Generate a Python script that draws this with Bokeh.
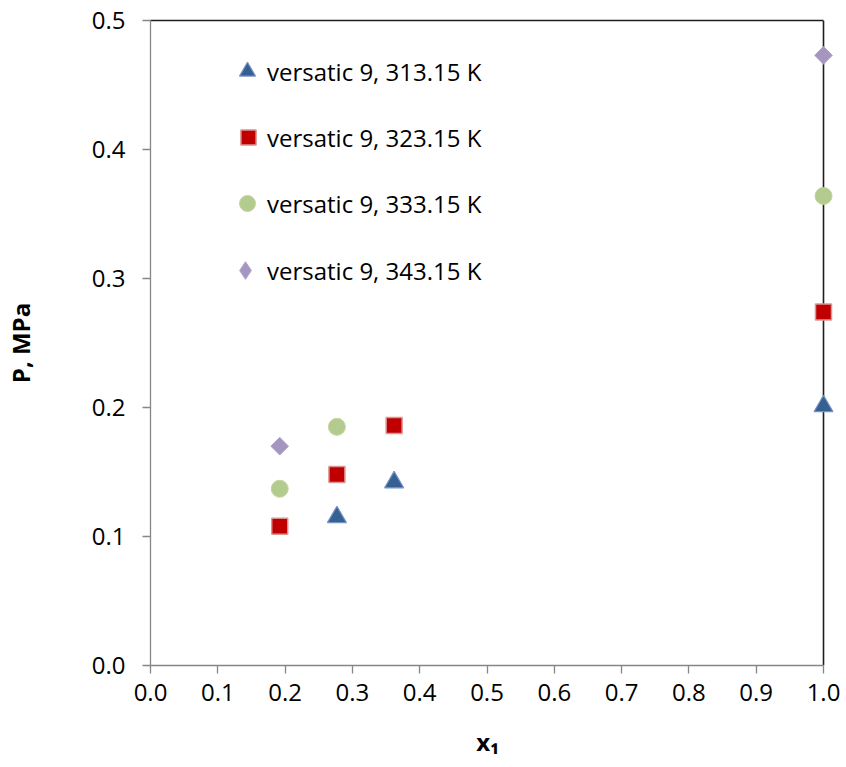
import numpy as np
from bokeh.plotting import figure
from bokeh.models import (Range1d, FixedTicker, PrintfTickFormatter, Span,
                          Legend, LegendItem, LinearAxis)
from bokeh.embed import file_html
from bokeh.resources import INLINE

# ---- data ----
x_ticks = [0.0, 0.1, 0.2, 0.3, 0.4, 0.5, 0.6, 0.7, 0.8, 0.9, 1.0]
y_ticks = [0.0, 0.1, 0.2, 0.3, 0.4, 0.5]

x_313 = [0.277, 0.362, 1.0]
p_313 = [0.115, 0.142, 0.201]
x_323 = [0.192, 0.277, 0.362, 1.0]
p_323 = [0.108, 0.148, 0.186, 0.274]
x_333 = [0.192, 0.277, 1.0]
p_333 = [0.137, 0.185, 0.364]
x_343 = [0.192, 1.0]
p_343 = [0.170, 0.473]

series_labels = ["versatic 9, 313.15 K", "versatic 9, 323.15 K",
                 "versatic 9, 333.15 K", "versatic 9, 343.15 K"]

FONT = "Open Sans"
W, H = 846, 767
ML, MR, MT, MB = 150, 3, 20, 102
PX_PER_X = 673.0          # pixels per unit of x1
EXTRA_X = (846 - ML - MR - 673) / PX_PER_X   # room right of x=1 so markers are not cut
FH = H - MT - MB

p = figure(width=W, height=H, x_range=Range1d(0, 1 + EXTRA_X),
           y_range=Range1d(0, 0.5),
           output_backend="svg", toolbar_location=None,
           min_border_left=ML, min_border_right=MR, min_border_top=MT,
           min_border_bottom=MB)
p.outline_line_color = None
p.grid.visible = False
p.background_fill_color = "white"
p.border_fill_color = "white"

p.xaxis.ticker = FixedTicker(ticks=x_ticks)
p.yaxis.ticker = FixedTicker(ticks=y_ticks)
p.xaxis.bounds = (0, 1)
for ax in (p.xaxis, p.yaxis):
    ax.formatter = PrintfTickFormatter(format="%.1f")
    ax.axis_line_color = "#868686"
    ax.axis_line_width = 1.3
    ax.major_tick_line_color = "#868686"
    ax.major_tick_line_width = 1.3
    ax.major_tick_out = 8
    ax.major_tick_in = 0
    ax.minor_tick_line_color = None
    ax.major_label_text_font = FONT
    ax.major_label_text_font_size = "24px"
    ax.major_label_text_color = "black"
    ax.axis_label_text_font = FONT
    ax.axis_label_text_font_size = "24px"
    ax.axis_label_text_font_style = "bold"
    ax.axis_label_text_color = "black"
p.xaxis.major_label_standoff = 10
p.yaxis.major_label_standoff = 17

p.yaxis.axis_label = "P, MPa"
p.yaxis.axis_label_standoff = 52
# trailing no-break spaces nudge the centred label left, over the 0..1 span
p.xaxis.axis_label = "x\u2081\u00a0\u00a0\u00a0"
p.xaxis.axis_label_standoff = 21

# top border line (from x=0 to x=1) and right border line at x=1
top_axis = LinearAxis(bounds=(0, 1), ticker=FixedTicker(ticks=[]),
                      axis_line_color="#1e1e1e", axis_line_width=1.6,
                      major_tick_line_color=None, minor_tick_line_color=None)
p.add_layout(top_axis, "above")
p.add_layout(Span(location=1.0, dimension="height", line_color="#1e1e1e",
                  line_width=1.6, level="underlay"))

r1 = p.scatter(x_313, p_313, marker="triangle", size=19, fill_color="#376092",
               line_color="#7393C4", line_width=1.2)
r2 = p.scatter(x_323, p_323, marker="square", size=16, fill_color="#C00000",
               line_color="#DA9694", line_width=1.5)
r3 = p.scatter(x_333, p_333, marker="circle", size=17, fill_color="#B3CB8E",
               line_color="#C3D69B", line_width=1)
r4 = p.scatter(x_343, p_343, marker="square", angle=np.pi / 4, size=12.5,
               fill_color="#A596C0", line_color="#B3A2C7", line_width=1)
# hidden copy used only for the legend key (legend ignores marker rotation)
r4_key = p.scatter(x_343, p_343, marker="diamond", size=17, fill_color="#A596C0",
                   line_color="#B3A2C7", line_width=1, visible=False)

# legend entries (one small legend per series so marker sizes can differ)
renderers = [r1, r2, r3, r4_key]
glyph_boxes = [40, 38, 40, 44]
centers = [51, 117, 183, 250]   # distance from frame top, px
TEXT_X = 117                    # label start, px from frame left
for r, lab, gw, c in zip(renderers, series_labels, glyph_boxes, centers):
    leg = Legend(items=[LegendItem(label=lab, renderers=[r])],
                 location=(TEXT_X - gw, FH - c - gw / 2),
                 glyph_width=gw, glyph_height=gw, label_height=gw,
                 label_standoff=0, padding=0, margin=0,
                 spacing=0, background_fill_alpha=0, border_line_color=None,
                 inactive_fill_alpha=0, click_policy="none",
                 label_text_font=FONT, label_text_font_size="24px",
                 label_text_color="black")
    p.add_layout(leg)

open("out.html", "w").write(file_html(p, INLINE))
